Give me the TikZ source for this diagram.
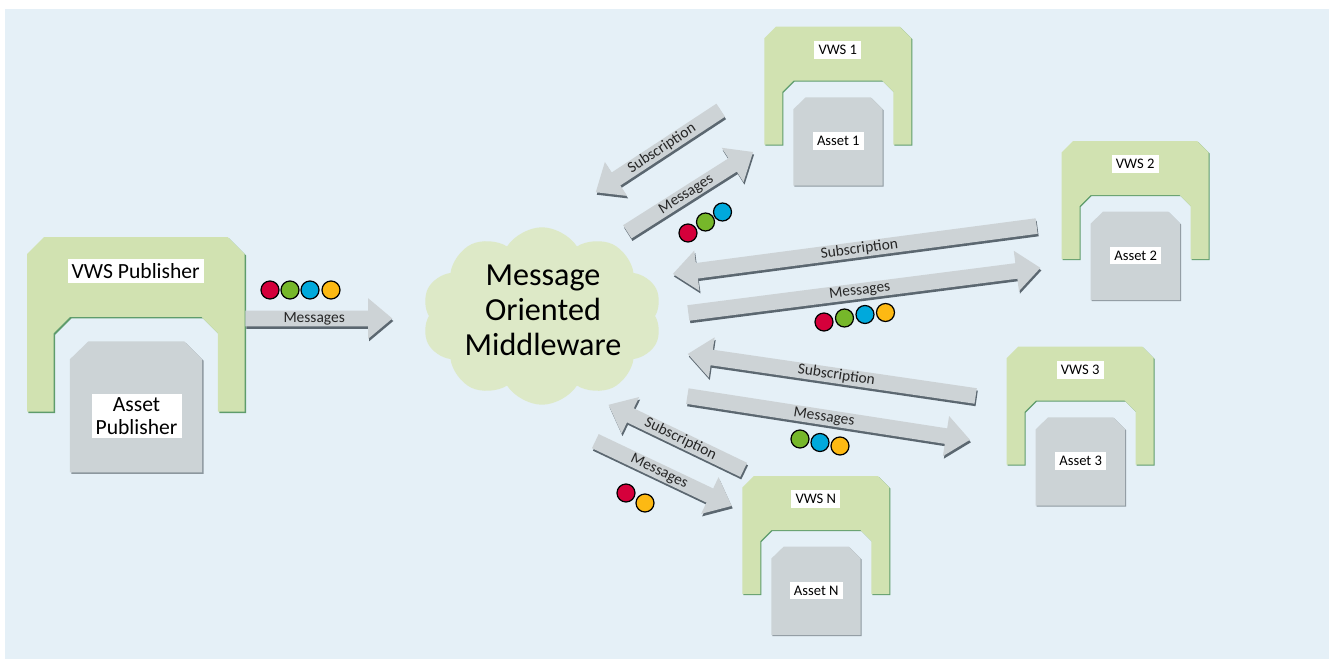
\documentclass[tikz,border=0pt]{standalone}
\usepackage{fontspec}
\setmainfont{Carlito}
\usetikzlibrary{shapes.arrows,shapes.symbols,calc}

\definecolor{bgblue}{HTML}{E5F0F7}
\definecolor{vwsgreen}{HTML}{D1E2B1}
\definecolor{vwsedge}{HTML}{5E9C6C}
\definecolor{assetgray}{HTML}{CCD3D6}
\definecolor{assetedge}{HTML}{8C979E}
\definecolor{arrowgray}{HTML}{CDD3D6}
\definecolor{arrowedge}{HTML}{5B6770}
\definecolor{cloudgreen}{HTML}{DDE9C7}
\definecolor{dred}{HTML}{D5003B}
\definecolor{dgreen}{HTML}{76B72A}
\definecolor{dcyan}{HTML}{00A9DC}
\definecolor{dyellow}{HTML}{FDB913}

\newcommand{\smallfont}{\fontsize{8.3}{9.7}\selectfont}
\newcommand{\arrowfont}{\fontsize{8.8}{9.7}\selectfont}
\newcommand{\bigfont}{\fontsize{12.3}{12.6}\selectfont}
\newcommand{\cloudfont}{\fontsize{18.3}{20}\selectfont}

\tikzset{
  vwsframe/.style={insert path={(0,118) -- (0,11.5) -- (11.5,0) -- (135.5,0) -- (147,11.5) -- (147,118)
    -- (129,118) -- (129,65) -- (118,54) -- (29,54) -- (18,65) -- (18,118) -- cycle}},
  assetframe/.style={insert path={(29,159) -- (29,82.6) -- (41.4,70.6) -- (106.4,70.6) -- (118.4,82.6)
    -- (118.4,159) -- cycle}},
  tag/.style={fill=white, inner xsep=2.3pt, inner ysep=2.3pt},
  arrowbase/.style={single arrow, single arrow head extend=0.25cm, single arrow tip angle=80,
    text height=5.8pt, text depth=1.5pt, inner xsep=0pt, inner ysep=0.6pt, font=\arrowfont},
  arrowbody/.style={arrowbase, fill=arrowgray, text=black!85},
  arrowshade/.style={arrowbase, fill=arrowedge},
  dot/.style={circle, draw=black, line width=0.7pt, minimum size=0.36cm, inner sep=0pt}
}

% name, x, y, scale, font, label, asset label, asset label height
\newcommand{\vws}[8]{%
  \begin{scope}[shift={(#2,#3)}, scale=#4]
    \fill[vwsedge, shift={(1,1)}, vwsframe];
    \fill[vwsgreen, vwsframe];
    \fill[assetedge, shift={(1,1)}, assetframe];
    \fill[assetgray, assetframe];
    \node[tag, font=#5] (#1) at (73.5,23) {#6};
    \node[tag, font=#5, align=center] (#1-asset) at (74,#8) {#7};
  \end{scope}}

% name, tail x, tail y, angle, length, direction, text
\newcommand{\msgarrow}[7]{%
  \node[arrowshade, rotate=#4, shape border rotate=#6, minimum height=#5, anchor=tail]
    at ($(#2,#3)+(1,2.5)$) {};
  \node[arrowbody, rotate=#4, shape border rotate=#6, minimum height=#5, anchor=tail]
    (#1) at (#2,#3) {#7};}

\begin{document}
\begin{tikzpicture}[x=0.02cm, y=-0.02cm]
\useasboundingbox (0,0) rectangle (1329,659);
\fill[bgblue] (5,9) rectangle (1329,659);

% middleware
\node[cloud, cloud puffs=10, cloud puff arc=115, aspect=1.35, fill=cloudgreen,
  minimum width=4.8cm, minimum height=3.55cm, inner sep=0pt] (mom) at (542,316) {};
\node[font=\cloudfont, align=center, inner sep=0pt] (mom-text) at (543,310) {Message\\Oriented\\Middleware};

% publisher and subscribers
\vws{pub}{27}{237}{1.48}{\bigfont}{VWS Publisher}{Asset\\Publisher}{121}
\vws{vws1}{764.3}{26.7}{1}{\smallfont}{VWS 1}{Asset 1}{114.5}
\vws{vws2}{1061.7}{141}{1}{\smallfont}{VWS 2}{Asset 2}{114.5}
\vws{vws3}{1006.7}{346.7}{1}{\smallfont}{VWS 3}{Asset 3}{114.5}
\vws{vwsn}{742.3}{476}{1}{\smallfont}{VWS N}{Asset N}{114.5}

% message flows
\msgarrow{pub-msg}{245}{318.5}{0}{2.94cm}{0}{Messages}
\msgarrow{vws1-sub}{721}{110}{33.3}{2.99cm}{180}{Subscription}
\msgarrow{vws1-msg}{627}{232}{32.4}{2.98cm}{0}{Messages}
\msgarrow{vws2-sub}{1037}{226}{7.5}{7.34cm}{180}{Subscription}
\msgarrow{vws2-msg}{688}{313}{7.3}{7.1cm}{0}{Messages}
\msgarrow{vws3-sub}{976}{396}{-8.3}{5.82cm}{180}{Subscription}
\msgarrow{vws3-msg}{687}{396}{-8.8}{5.72cm}{0}{Messages}
\msgarrow{vwsn-sub}{744}{470}{-25.7}{3.0cm}{180}{Subscription}
\msgarrow{vwsn-msg}{595}{441}{-25.4}{3.02cm}{0}{Messages}

% messages in transit
\foreach \x/\y/\c [count=\i] in {270/290/dred, 290/290/dgreen, 310/290/dcyan, 331/290/dyellow,
  688/233/dred, 705.5/222/dgreen, 722.5/212/dcyan,
  824/322/dred, 844.5/318/dgreen, 865/314.5/dcyan, 885.5/312.5/dyellow,
  800/439/dgreen, 820/442.5/dcyan, 840/446/dyellow,
  626/493/dred, 645/503/dyellow}
  \node[dot, fill=\c] (msg\i) at (\x,\y) {};
\end{tikzpicture}
\end{document}
